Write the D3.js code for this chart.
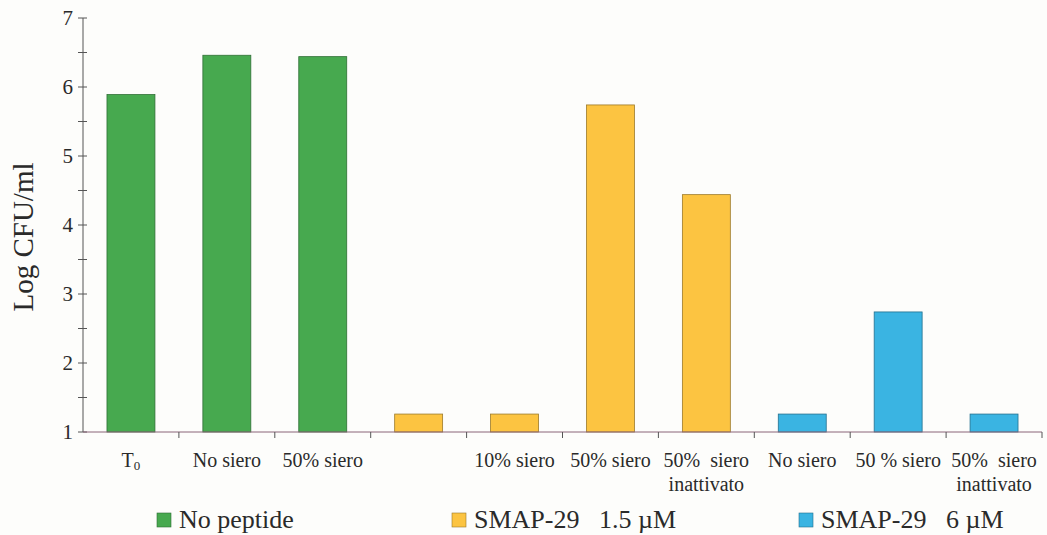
<!DOCTYPE html>
<html>
<head>
<meta charset="utf-8">
<script src="https://cdn.jsdelivr.net/npm/d3@7"></script>
<style>
  html, body { margin: 0; padding: 0; background: #fdfdfb; }
  svg { display: block; }
  svg text { font-family: "Liberation Serif", "Times New Roman", Times, "DejaVu Serif", serif; fill: #2a2a2a; white-space: pre; }
</style>
</head>
<body>
<svg id="chart" width="1047" height="535"></svg>
<script>
// Category labels (line 1 / line 2), one per bar slot
const labelLine1 = ["T0", "No siero", "50% siero", "", "10% siero", "50% siero", "50%  siero", "No siero", "50 % siero", "50%  siero"];
const labelLine2 = ["", "", "", "", "", "", "inattivato", "", "", "inattivato"];
// Log CFU/ml per slot
const values = [5.89, 6.46, 6.44, 1.26, 1.26, 5.74, 4.44, 1.26, 2.74, 1.26];
// Series each slot belongs to
const seriesOf = [0, 0, 0, 1, 1, 1, 1, 2, 2, 2];
const seriesNames = ["No peptide", "SMAP-29   1.5 \u00B5M", "SMAP-29   6 \u00B5M"];
const seriesColors = ["#47a94f", "#fcc441", "#3ab4e2"];
const seriesStroke = ["#2f6f35", "#9c7a2a", "#23708e"];
const yTicks = [1, 2, 3, 4, 5, 6, 7];

const FONT = "'Liberation Serif', 'Times New Roman', Times, 'DejaVu Serif', serif";
const svg = d3.select("#chart");
const x0 = 83, x1 = 1042, yTop = 18, yBase = 432;

const x = d3.scaleBand().domain(d3.range(values.length)).range([x0, x1]).paddingInner(0.5).paddingOuter(0.25);
const y = d3.scaleLinear().domain([1, 7]).range([yBase, yTop]);

// Bars
svg.append("g").selectAll("rect").data(values).join("rect")
  .attr("x", (d, i) => x(i))
  .attr("y", d => y(d))
  .attr("width", x.bandwidth())
  .attr("height", d => y(1) - y(d))
  .attr("fill", (d, i) => seriesColors[seriesOf[i]])
  .attr("stroke", (d, i) => seriesStroke[seriesOf[i]])
  .attr("stroke-width", 0.8);

// Y axis with half-unit minor ticks
const yAxis = svg.append("g");
yAxis.append("line").attr("x1", x0).attr("x2", x0).attr("y1", y(7)).attr("y2", y(1))
  .attr("stroke", "#555").attr("stroke-width", 1);
yAxis.selectAll("line.tk").data(d3.range(1, 7.01, 0.5)).join("line").attr("class", "tk")
  .attr("x1", x0 - 5).attr("x2", x0 + 4)
  .attr("y1", d => y(d)).attr("y2", d => y(d))
  .attr("stroke", "#555").attr("stroke-width", 1);
yAxis.selectAll("text").data(yTicks).join("text")
  .attr("x", x0 - 10).attr("y", d => y(d) + 7)
  .attr("text-anchor", "end").attr("font-size", 21).attr("font-family", FONT)
  .text(d => d);

// X axis
const xAxis = svg.append("g");
xAxis.append("line").attr("x1", x0).attr("x2", x1).attr("y1", yBase).attr("y2", yBase)
  .attr("stroke", "#8a6478").attr("stroke-width", 1);
const step = x.step();
xAxis.selectAll("line.tk").data(d3.range(1, values.length + 1)).join("line").attr("class", "tk")
  .attr("x1", i => x0 + i * step).attr("x2", i => x0 + i * step)
  .attr("y1", yBase).attr("y2", yBase + 6)
  .attr("stroke", "#555").attr("stroke-width", 1);

const lab = xAxis.selectAll("g.lab").data(d3.range(values.length)).join("g").attr("class", "lab")
  .attr("transform", i => `translate(${x(i) + x.bandwidth() / 2},0)`);
lab.append("text").attr("y", 467).attr("text-anchor", "middle").attr("font-size", 20)
  .attr("font-family", FONT).attr("xml:space", "preserve")
  .each(function (i) {
    const t = d3.select(this);
    const s = labelLine1[i];
    if (s === "T0") {
      t.append("tspan").text("T");
      t.append("tspan").attr("font-size", 13).attr("dy", 3).text("0");
    } else {
      t.text(s);
    }
  });
lab.append("text").attr("y", 491).attr("text-anchor", "middle").attr("font-size", 20)
  .attr("font-family", FONT)
  .text(i => labelLine2[i]);

// Y axis title
svg.append("text")
  .attr("transform", "translate(33,237) rotate(-90)")
  .attr("text-anchor", "middle").attr("font-size", 29).attr("font-family", FONT)
  .text("Log CFU/ml");

// Legend
const legendX = [157, 452, 799];
const leg = svg.append("g").selectAll("g").data(seriesNames).join("g")
  .attr("transform", (d, i) => `translate(${legendX[i]},513)`);
leg.append("rect").attr("width", 14).attr("height", 14)
  .attr("fill", (d, i) => seriesColors[i])
  .attr("stroke", (d, i) => seriesStroke[i]).attr("stroke-width", 0.6);
leg.append("text").attr("x", 22).attr("y", 15).attr("font-size", 26)
  .attr("font-family", FONT).attr("xml:space", "preserve")
  .text(d => d);
</script>
</body>
</html>
